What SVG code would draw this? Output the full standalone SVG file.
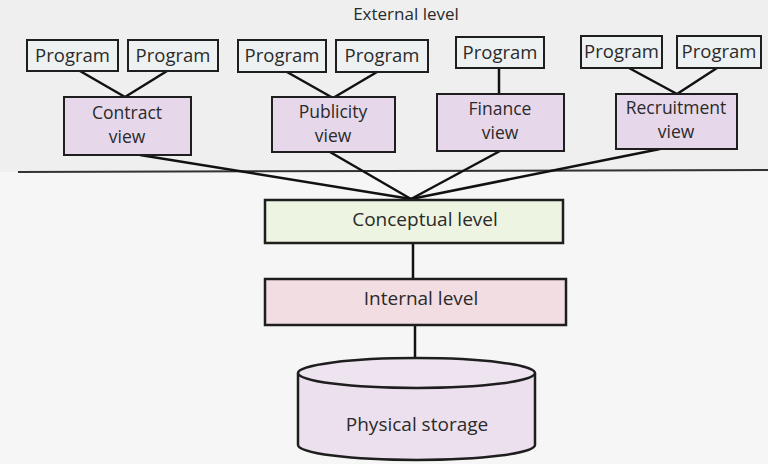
<svg xmlns="http://www.w3.org/2000/svg" width="768" height="464" viewBox="0 0 768 464">
<style>
text{font-family:"Open Sans","Noto Sans","Liberation Sans",sans-serif;font-size:18.5px;font-weight:500;fill:#2a2a2a;text-anchor:middle}
.vt{font-size:17.5px}
.prog{fill:#eef1f1;stroke:#1e1e1e;stroke-width:2}
.view{fill:#e6d8ea;stroke:#1e1e1e;stroke-width:2}
.ln{stroke:#111;stroke-width:2.5;fill:none}
</style>
<rect x="0" y="0" width="768" height="464" fill="#f6f6f6"/>
<rect x="0" y="0" width="768" height="172" fill="#efefef"/>
<line x1="18" y1="172" x2="768" y2="170" stroke="#333" stroke-width="2"/>
<text x="406" y="20" style="font-size:17px">External level</text>
<g id="connectors">
<line class="ln" x1="80" y1="71" x2="125" y2="97"/>
<line class="ln" x1="167" y1="71" x2="125" y2="97"/>
<line class="ln" x1="287" y1="72" x2="333" y2="98"/>
<line class="ln" x1="377" y1="72" x2="333" y2="98"/>
<line class="ln" x1="499" y1="68" x2="499" y2="94"/>
<line class="ln" x1="629" y1="68" x2="677" y2="94"/>
<line class="ln" x1="717" y1="68" x2="677" y2="94"/>
<line class="ln" x1="140" y1="155" x2="411" y2="199"/>
<line class="ln" x1="330" y1="152" x2="411" y2="199"/>
<line class="ln" x1="500" y1="151" x2="411" y2="199"/>
<line class="ln" x1="660" y1="149" x2="411" y2="199"/>
<line class="ln" x1="413" y1="243" x2="413" y2="279"/>
<line class="ln" x1="415" y1="325" x2="415" y2="358"/>
</g>
<g id="p1"><rect class="prog" x="27" y="40" width="91" height="31"/><text x="72.5" y="62">Program</text></g>
<g id="p2"><rect class="prog" x="128" y="40" width="90" height="31"/><text x="173" y="62">Program</text></g>
<g id="p3"><rect class="prog" x="238" y="40" width="88" height="32"/><text x="282" y="62">Program</text></g>
<g id="p4"><rect class="prog" x="336" y="40" width="92" height="32"/><text x="382" y="62">Program</text></g>
<g id="p5"><rect class="prog" x="456" y="37" width="88" height="31"/><text x="500" y="59">Program</text></g>
<g id="p6"><rect class="prog" x="581" y="36" width="81" height="32"/><text x="621.5" y="58">Program</text></g>
<g id="p7"><rect class="prog" x="677" y="36" width="84" height="32"/><text x="719" y="58">Program</text></g>
<g id="contract"><rect class="view" x="64" y="97" width="127" height="58"/><text class="vt" x="127" y="119">Contract</text><text class="vt" x="127" y="143">view</text></g>
<g id="publicity"><rect class="view" x="272" y="97" width="123" height="55"/><text class="vt" x="333" y="118">Publicity</text><text class="vt" x="333" y="142">view</text></g>
<g id="finance"><rect class="view" x="437" y="94" width="127" height="57"/><text class="vt" x="500" y="115">Finance</text><text class="vt" x="500" y="139">view</text></g>
<g id="recruitment"><rect class="view" x="616" y="94" width="121" height="55"/><text class="vt" x="676" y="114">Recruitment</text><text class="vt" x="676" y="138">view</text></g>
<g id="conceptual"><rect x="265" y="200" width="298" height="43" fill="#edf4e2" stroke="#1e1e1e" stroke-width="2.5"/><text x="425" y="226" style="font-size:19px">Conceptual level</text></g>
<g id="internal"><rect x="265" y="279" width="301" height="46" fill="#f2dde2" stroke="#1e1e1e" stroke-width="2.5"/><text x="421" y="305" style="font-size:19px">Internal level</text></g>
<g id="storage">
<path d="M298,373 L298,445 A118.5,15 0 0 0 535,445 L535,373" fill="#ece0ee" stroke="#1e1e1e" stroke-width="2.5"/>
<ellipse cx="416.5" cy="373" rx="118.5" ry="15" fill="#eee4f0" stroke="#1e1e1e" stroke-width="2.5"/>
<text x="417" y="431" style="font-size:19px">Physical storage</text>
</g>
</svg>
